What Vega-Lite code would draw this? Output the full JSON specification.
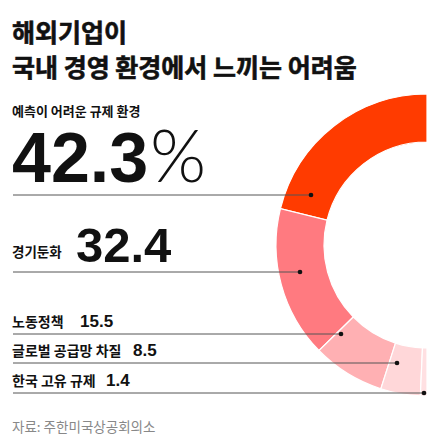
{
  "$schema": "https://vega.github.io/schema/vega-lite/v6.json",
  "description": "해외기업이 국내 경영 환경에서 느끼는 어려움 (half donut)",
  "width": 445,
  "height": 446,
  "autosize": "none",
  "padding": 0,
  "background": "white",
  "config": {"view": {"stroke": null}, "font": "Noto Sans CJK KR"},
  "data": {
    "values": [
      {"cat": "예측이 어려운 규제 환경", "value": 42.3, "order": 5},
      {"cat": "경기둔화", "value": 32.4, "order": 4},
      {"cat": "노동정책", "value": 15.5, "order": 3},
      {"cat": "글로벌 공급망 차질", "value": 8.5, "order": 2},
      {"cat": "한국 고유 규제", "value": 1.4, "order": 1}
    ]
  },
  "resolve": {"scale": {"x": "independent", "y": "independent"}},
  "layer": [
    {
      "data": {"values": [{"headline": ["해외기업이", "국내 경영 환경에서 느끼는 어려움"]}]},
      "mark": {"type": "text", "align": "left", "baseline": "alphabetic", "fontSize": 25, "fontWeight": "bold", "lineHeight": 35, "color": "#111111", "stroke": "#111111", "strokeWidth": 0.6},
      "encoding": {
        "text": {"field": "headline"},
        "x": {"value": 12},
        "y": {"value": 42}
      }
    },
    {
      "mark": {"type": "arc", "radius": 151, "radius2": 103, "stroke": "white", "strokeWidth": 1.2},
      "encoding": {
        "theta": {
          "field": "value",
          "type": "quantitative",
          "stack": true,
          "scale": {"range": [3.14159, 6.28318]}
        },
        "order": {"field": "order", "type": "quantitative"},
        "color": {
          "field": "cat",
          "type": "nominal",
          "scale": {
            "domain": ["예측이 어려운 규제 환경", "경기둔화", "노동정책", "글로벌 공급망 차질", "한국 고유 규제"],
            "range": ["#ff3b00", "#ff7a80", "#ffb0b3", "#ffd7d9", "#ffe0e2"]
          },
          "legend": null
        },
        "x": {"value": 427},
        "y": {"value": 245}
      }
    },
    {
      "mark": {"type": "rule", "color": "#555555", "strokeWidth": 1},
      "encoding": {
        "x": {
          "field": "order",
          "type": "quantitative",
          "scale": {"domain": [1, 2, 3, 4, 5], "range": [424, 397, 341, 300, 311]},
          "axis": null
        },
        "x2": {"value": 13},
        "y": {
          "field": "order",
          "type": "quantitative",
          "scale": {"domain": [1, 2, 3, 4, 5], "range": [393, 363, 334, 272, 195]},
          "axis": null
        }
      }
    },
    {
      "mark": {"type": "point", "filled": true, "color": "#111111", "size": 22, "opacity": 1},
      "encoding": {
        "x": {
          "field": "order",
          "type": "quantitative",
          "scale": {"domain": [1, 2, 3, 4, 5], "range": [424, 397, 341, 300, 311]},
          "axis": null
        },
        "y": {
          "field": "order",
          "type": "quantitative",
          "scale": {"domain": [1, 2, 3, 4, 5], "range": [393, 363, 334, 272, 195]},
          "axis": null
        }
      }
    },
    {
      "transform": [{"filter": "datum.order <= 3"}],
      "mark": {"type": "text", "align": "left", "baseline": "alphabetic", "fontSize": 14, "fontWeight": "bold", "color": "#111111", "dy": -7},
      "encoding": {
        "text": {"field": "cat"},
        "x": {"value": 12},
        "y": {
          "field": "order",
          "type": "quantitative",
          "scale": {"domain": [1, 2, 3, 4, 5], "range": [393, 363, 334, 272, 195]},
          "axis": null
        }
      }
    },
    {
      "transform": [{"filter": "datum.order <= 3"}],
      "mark": {"type": "text", "align": "left", "baseline": "alphabetic", "fontSize": 17, "fontWeight": "bold", "font": "Liberation Sans", "color": "#111111", "dy": -7},
      "encoding": {
        "text": {"field": "value", "format": ".1f"},
        "x": {
          "field": "order",
          "type": "quantitative",
          "scale": {"domain": [1, 2, 3], "range": [106, 133, 80]},
          "axis": null
        },
        "y": {
          "field": "order",
          "type": "quantitative",
          "scale": {"domain": [1, 2, 3, 4, 5], "range": [393, 363, 334, 272, 195]},
          "axis": null
        }
      }
    },
    {
      "transform": [{"filter": "datum.order == 4"}],
      "mark": {"type": "text", "align": "left", "baseline": "alphabetic", "fontSize": 13.5, "fontWeight": "bold", "color": "#111111", "dy": -15},
      "encoding": {
        "text": {"field": "cat"},
        "x": {"value": 12},
        "y": {
          "field": "order",
          "type": "quantitative",
          "scale": {"domain": [1, 2, 3, 4, 5], "range": [393, 363, 334, 272, 195]},
          "axis": null
        }
      }
    },
    {
      "transform": [{"filter": "datum.order == 4"}],
      "mark": {"type": "text", "align": "left", "baseline": "alphabetic", "fontSize": 49, "fontWeight": "bold", "font": "Liberation Sans", "color": "#111111", "dx": 63, "dy": -10},
      "encoding": {
        "text": {"field": "value", "format": ".1f"},
        "x": {"value": 13},
        "y": {
          "field": "order",
          "type": "quantitative",
          "scale": {"domain": [1, 2, 3, 4, 5], "range": [393, 363, 334, 272, 195]},
          "axis": null
        }
      }
    },
    {
      "transform": [{"filter": "datum.order == 5"}],
      "mark": {"type": "text", "align": "left", "baseline": "alphabetic", "fontSize": 13, "fontWeight": "bold", "color": "#111111", "dy": -79},
      "encoding": {
        "text": {"field": "cat"},
        "x": {"value": 12},
        "y": {
          "field": "order",
          "type": "quantitative",
          "scale": {"domain": [1, 2, 3, 4, 5], "range": [393, 363, 334, 272, 195]},
          "axis": null
        }
      }
    },
    {
      "transform": [{"filter": "datum.order == 5"}],
      "mark": {"type": "text", "align": "left", "baseline": "alphabetic", "fontSize": 70, "fontWeight": "bold", "font": "Liberation Sans", "color": "#111111", "dx": -1, "dy": -13},
      "encoding": {
        "text": {"field": "value", "format": ".1f"},
        "x": {"value": 13},
        "y": {
          "field": "order",
          "type": "quantitative",
          "scale": {"domain": [1, 2, 3, 4, 5], "range": [393, 363, 334, 272, 195]},
          "axis": null
        }
      }
    },
    {
      "transform": [{"filter": "datum.order == 5"}],
      "mark": {"type": "text", "align": "left", "baseline": "alphabetic", "fontSize": 72, "fontWeight": 300, "font": "Lato", "color": "#111111", "dx": 137, "dy": -13, "text": "%"},
      "encoding": {
        "x": {"value": 13},
        "y": {
          "field": "order",
          "type": "quantitative",
          "scale": {"domain": [1, 2, 3, 4, 5], "range": [393, 363, 334, 272, 195]},
          "axis": null
        }
      }
    },
    {
      "data": {"values": [{"source": "자료: 주한미국상공회의소"}]},
      "mark": {"type": "text", "align": "left", "baseline": "alphabetic", "fontSize": 13.5, "color": "#888888"},
      "encoding": {
        "text": {"field": "source"},
        "x": {"value": 12},
        "y": {"value": 432}
      }
    }
  ]
}
